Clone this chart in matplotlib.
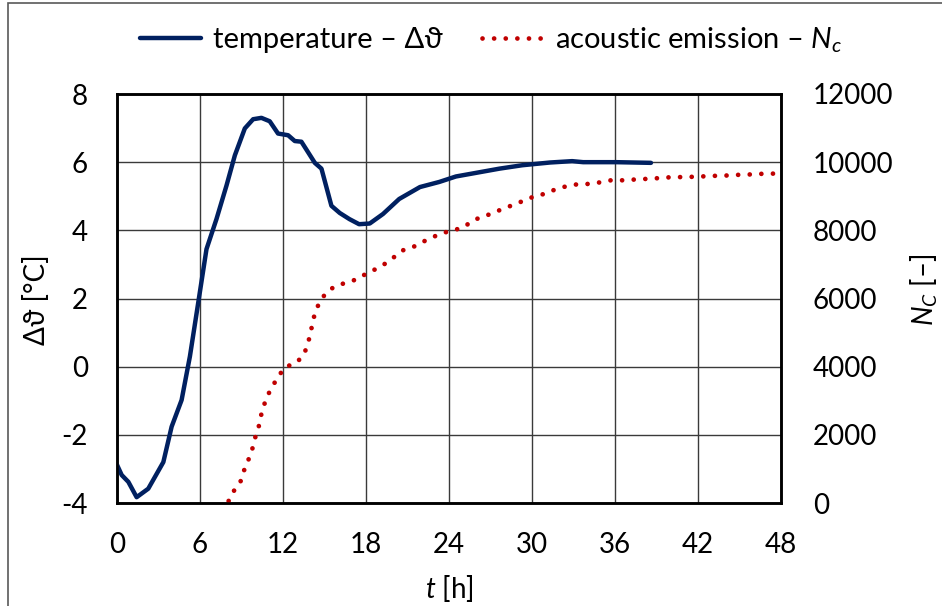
import numpy as np
import matplotlib
matplotlib.use('Agg')
import matplotlib.pyplot as plt
from matplotlib.patches import Rectangle

# -------------------- Data --------------------
temp_t = [0.0, 0.34, 0.82, 1.42, 2.26, 3.35, 3.95, 4.67, 5.27, 5.87, 6.47, 7.19,
          7.92, 8.52, 9.24, 9.84, 10.44, 11.04, 11.64, 12.37, 12.85, 13.33, 13.8,
          14.3, 14.78, 15.5, 16.1, 16.8, 17.5, 18.27, 19.23, 20.4, 21.9, 23.3,
          24.5, 27.65, 29.3, 31.3, 32.9, 33.7, 36.1, 38.6]
temp_dT = [-2.88, -3.18, -3.38, -3.83, -3.58, -2.8, -1.76, -0.98, 0.3, 1.87, 3.45, 4.33,
           5.32, 6.2, 6.99, 7.26, 7.3, 7.2, 6.84, 6.79, 6.62, 6.6, 6.3,
           5.98, 5.81, 4.72, 4.51, 4.33, 4.18, 4.2, 4.48, 4.92, 5.27, 5.42,
           5.58, 5.81, 5.91, 5.99, 6.03, 6.0, 6.0, 5.98]

ae_t = [8.07, 8.43, 8.92, 9.16, 9.47, 9.76, 9.95, 10.22, 10.38, 10.6, 10.89, 11.28,
        11.69, 12.17, 12.94, 13.49, 13.78, 13.98, 14.15, 14.34, 14.7, 15.18, 15.86,
        16.63, 17.42, 18.07, 18.75, 19.45, 20.03, 20.63, 21.4, 22.08, 22.78, 23.52,
        24.3, 25.1, 25.7, 26.4, 27.2, 27.9, 28.7, 29.45, 30.17, 30.97, 31.7, 32.47,
        33.26, 34.1, 34.95, 35.7, 36.6, 37.4, 38.3, 39.1, 39.96, 40.8, 41.6, 42.5,
        43.3, 44.1, 45.0, 45.8, 46.7, 47.65]
ae_Nc = [60, 344, 617, 932, 1235, 1549, 1873, 2187, 2520, 2843, 3157, 3451,
         3734, 3990, 4107, 4334, 4645, 4969, 5304, 5627, 5930, 6203, 6380,
         6468, 6577, 6744, 6871, 7038, 7215, 7409, 7509, 7656, 7791, 7921,
         7997, 8097, 8291, 8391, 8509, 8635, 8753, 8879, 8997, 9076, 9203, 9291,
         9350, 9362, 9409, 9468, 9468, 9490, 9510, 9530, 9556, 9563, 9570, 9585,
         9600, 9609, 9630, 9640, 9660, 9665]

x_ticks = [0, 6, 12, 18, 24, 30, 36, 42, 48]
y_ticks = [-4, -2, 0, 2, 4, 6, 8]
y2_ticks = [0, 2000, 4000, 6000, 8000, 10000, 12000]
# ------------------------------------------------------------------------

plt.rcParams['font.family'] = ['Lato', 'DejaVu Sans']
plt.rcParams['mathtext.fontset'] = 'custom'
plt.rcParams['mathtext.rm'] = 'Lato'
plt.rcParams['mathtext.it'] = 'Lato:italic'
plt.rcParams['axes.unicode_minus'] = False
plt.rcParams['font.size'] = 20

BLUE = '#002060'
RED = '#C00000'

fig = plt.figure(figsize=(9.42, 6.06), dpi=100)
# outer chart frame (only its top and left edges fall inside the picture)
fig.patches.append(Rectangle((8 / 942, -0.05), 1.2, 1.05 - 3 / 606,
                             transform=fig.transFigure, fill=False,
                             edgecolor='#595959', lw=1.2))

ax = fig.add_axes([117 / 942, 103 / 606, 664 / 942, 409 / 606])
ax2 = ax.twinx()

l1, = ax.plot(temp_t, temp_dT, color=BLUE, lw=3.2, solid_capstyle='round',
              label='temperature – Δϑ', zorder=3)
l2, = ax2.plot(ae_t, ae_Nc, color=RED, lw=3.4, linestyle=(0, (0.01, 2.45)),
               dash_capstyle='round', label='acoustic emission – $N_c$')

ax.set_xlim(0, 48)
ax.set_ylim(-4, 8)
ax2.set_ylim(0, 12000)
ax.set_xticks(x_ticks)
ax.set_yticks(y_ticks)
ax2.set_yticks(y2_ticks)

ax.grid(True, color='#3a3a3a', lw=1.0)
ax.set_axisbelow(True)
ax.tick_params(axis='both', length=0, pad=21)
ax2.tick_params(axis='y', length=0, pad=23)
for sp in list(ax.spines.values()) + list(ax2.spines.values()):
    sp.set_linewidth(1.8)
    sp.set_color('black')

ax.set_ylabel('Δϑ [°C]')
ax.yaxis.set_label_coords(-0.101, 0.496)
ax.set_xlabel('$t$ [h]')
ax.xaxis.set_label_coords(0.5, -0.17)
ax2.set_ylabel('$N_C$ [–]')
ax2.yaxis.set_label_coords(1.192, 0.52)

fig.legend(handles=[l1, l2], loc='center', bbox_to_anchor=(491 / 942, 1 - 40 / 606),
           ncol=2, frameon=False, handlelength=2.1, handletextpad=0.4,
           columnspacing=1.35, fontsize=21)

fig.savefig('out.png', dpi=100)
